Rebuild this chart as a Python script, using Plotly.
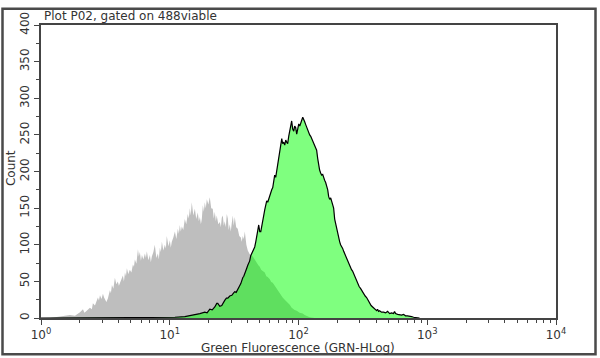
import plotly.graph_objects as go

# ---- data (log10 fluorescence channel, counts) ----
control_log = [0.070, 0.109, 0.147, 0.186, 0.225, 0.264, 0.290, 0.303, 0.326, 0.337,
               0.349, 0.380, 0.395, 0.403, 0.419, 0.430, 0.442, 0.450, 0.458, 0.470,
               0.481, 0.490, 0.497, 0.508, 0.520, 0.535, 0.543, 0.551, 0.562, 0.574,
               0.585, 0.597, 0.605, 0.613, 0.625, 0.636, 0.644, 0.652, 0.660, 0.667,
               0.678, 0.690, 0.702, 0.714, 0.722, 0.729, 0.741, 0.753, 0.760, 0.768,
               0.776, 0.784, 0.795, 0.807, 0.815, 0.822, 0.834, 0.846, 0.853, 0.861,
               0.873, 0.884, 0.896, 0.908, 0.915, 0.923, 0.931, 0.939, 0.950, 0.962,
               0.970, 0.977, 0.990, 1.001, 1.008, 1.016, 1.028, 1.040, 1.051, 1.063,
               1.071, 1.078, 1.086, 1.094, 1.105, 1.117, 1.128, 1.140, 1.148, 1.156,
               1.163, 1.171, 1.183, 1.195, 1.206, 1.218, 1.226, 1.234, 1.242, 1.249,
               1.257, 1.265, 1.272, 1.280, 1.288, 1.300, 1.311, 1.322, 1.334, 1.342,
               1.350, 1.358, 1.365, 1.377, 1.389, 1.397, 1.404, 1.412, 1.420, 1.427,
               1.435, 1.443, 1.451, 1.458, 1.466, 1.474, 1.482, 1.490, 1.497, 1.505,
               1.516, 1.528, 1.540, 1.552, 1.559, 1.567, 1.575, 1.583, 1.595, 1.606,
               1.621, 1.633, 1.645, 1.660, 1.676, 1.688, 1.699, 1.710, 1.722, 1.738,
               1.750, 1.761, 1.777, 1.788, 1.800, 1.815, 1.827, 1.839, 1.854, 1.866,
               1.877, 1.893, 1.905, 1.916, 1.932, 1.947, 1.960, 1.970, 1.986, 2.009,
               2.033, 2.048, 2.087, 2.126]
control_count = [0, 1, 2, 2, 4, 3, 6, 8, 12, 7,
                 9, 14, 12, 20, 17, 22, 28, 24, 31, 26,
                 33, 28, 25, 22, 27, 38, 34, 45, 40, 55,
                 46, 50, 44, 47, 52, 58, 50, 62, 57, 68,
                 60, 66, 62, 73, 70, 80, 74, 94, 84, 90,
                 78, 86, 80, 88, 82, 91, 79, 86, 76, 84,
                 90, 100, 82, 88, 80, 96, 90, 104, 92, 100,
                 95, 112, 98, 106, 96, 104, 110, 118, 108, 122,
                 115, 127, 118, 125, 120, 135, 128, 142, 136, 150,
                 140, 158, 140, 149, 135, 144, 132, 138, 128, 135,
                 154, 145, 158, 150, 162, 155, 165, 150, 149, 136,
                 145, 132, 140, 128, 131, 124, 137, 140, 126, 132,
                 124, 142, 136, 120, 128, 118, 130, 140, 126, 138,
                 124, 122, 112, 110, 104, 112, 108, 118, 100, 92,
                 87, 86, 84, 80, 75, 72, 70, 66, 64, 62,
                 57, 56, 53, 49, 48, 44, 40, 38, 33, 30,
                 28, 25, 23, 21, 18, 14, 12, 11, 10, 7,
                 6, 4, 1, 0]

sample_log = [0.000, 0.962, 1.040, 1.117, 1.156, 1.195, 1.234, 1.272, 1.290, 1.311,
              1.330, 1.350, 1.365, 1.373, 1.389, 1.404, 1.416, 1.427, 1.440, 1.451,
              1.466, 1.482, 1.495, 1.505, 1.516, 1.528, 1.540, 1.552, 1.560, 1.567,
              1.575, 1.583, 1.590, 1.598, 1.606, 1.614, 1.621, 1.629, 1.637, 1.645,
              1.652, 1.660, 1.668, 1.676, 1.684, 1.691, 1.699, 1.707, 1.715, 1.722,
              1.730, 1.738, 1.745, 1.753, 1.761, 1.769, 1.777, 1.784, 1.792, 1.800,
              1.808, 1.815, 1.823, 1.831, 1.839, 1.846, 1.854, 1.862, 1.870, 1.877,
              1.885, 1.893, 1.901, 1.908, 1.916, 1.924, 1.932, 1.940, 1.947, 1.955,
              1.963, 1.970, 1.978, 1.986, 1.994, 2.002, 2.010, 2.017, 2.025, 2.033,
              2.040, 2.048, 2.056, 2.064, 2.072, 2.079, 2.087, 2.095, 2.103, 2.110,
              2.118, 2.126, 2.134, 2.141, 2.149, 2.157, 2.164, 2.172, 2.180, 2.188,
              2.195, 2.203, 2.211, 2.219, 2.227, 2.234, 2.242, 2.250, 2.258, 2.265,
              2.273, 2.281, 2.289, 2.296, 2.304, 2.312, 2.320, 2.327, 2.335, 2.343,
              2.351, 2.358, 2.366, 2.374, 2.382, 2.389, 2.397, 2.405, 2.412, 2.420,
              2.432, 2.444, 2.452, 2.459, 2.471, 2.483, 2.495, 2.506, 2.518, 2.529,
              2.540, 2.552, 2.564, 2.576, 2.588, 2.599, 2.607, 2.614, 2.622, 2.630,
              2.645, 2.661, 2.676, 2.692, 2.708, 2.723, 2.738, 2.746, 2.754, 2.770,
              2.785, 2.800, 2.816, 2.831, 2.847, 2.862, 2.878, 2.894, 2.909, 2.940]
sample_count = [0, 0, 1, 2, 3, 4, 6, 8, 7, 12,
                11, 15, 20, 20, 16, 17, 22, 24, 27, 27,
                30, 31, 34, 36, 35, 40, 43, 47, 52, 55,
                57, 62, 63, 68, 72, 75, 78, 85, 88, 91,
                95, 97, 104, 110, 120, 127, 118, 118, 128, 135,
                140, 148, 155, 160, 158, 163, 168, 172, 175, 178,
                186, 195, 192, 202, 210, 218, 229, 236, 245, 238,
                240, 236, 243, 240, 238, 248, 256, 262, 269, 258,
                255, 262, 260, 251, 258, 265, 262, 268, 270, 274,
                272, 268, 264, 260, 256, 254, 250, 248, 245, 242,
                238, 235, 232, 229, 218, 205, 202, 198, 195, 196,
                191, 188, 185, 180, 175, 166, 162, 164, 160, 154,
                150, 135, 128, 120, 114, 108, 104, 100, 98, 95,
                91, 88, 84, 82, 78, 76, 72, 68, 66, 64,
                59, 55, 50, 47, 43, 40, 36, 34, 30, 28,
                24, 20, 17, 15, 13, 12, 10, 12, 9, 10,
                8, 8, 7, 9, 6, 7, 6, 9, 6, 5,
                4, 4, 5, 3, 3, 2, 2, 1, 1, 0]

x_tick_vals = [1, 10, 100, 1000, 10000]
x_tick_text = ["10<sup>0</sup>", "10<sup>1</sup>", "10<sup>2</sup>", "10<sup>3</sup>", "10<sup>4</sup>"]
x_minor_vals = [m * d for d in (1, 10, 100, 1000) for m in range(2, 10)]
y_tick_vals = [0, 50, 100, 150, 200, 250, 300, 350, 400]

plot_title = "Plot P02, gated on 488viable"
x_title = "Green Fluorescence (GRN-HLog)"
y_title = "Count"

FONT = "DejaVu Sans"
TXT = "#333333"

fig = go.Figure()
fig.add_trace(go.Scatter(
    x=[10 ** v for v in control_log], y=control_count,
    mode="lines", fill="tozeroy",
    line=dict(width=0, color="rgb(190,190,190)"),
    fillcolor="rgb(190,190,190)", hoverinfo="skip", showlegend=False))
fig.add_trace(go.Scatter(
    x=[10 ** v for v in sample_log], y=sample_count,
    mode="lines", fill="tozeroy",
    line=dict(width=1.2, color="black"),
    fillcolor="rgba(0,255,0,0.5)", hoverinfo="skip", showlegend=False))

L, R, T, B = 41, 44, 19, 40
W, H = 600, 358
pw, ph = W - L - R, H - T - B

def px(x):
    return (x - L) / pw

def py(y):
    return (H - B - y) / ph

fig.update_layout(
    width=W, height=H,
    margin=dict(l=L, r=R, t=T, b=B),
    paper_bgcolor="white", plot_bgcolor="white",
    font=dict(family=FONT, size=11, color=TXT),
    xaxis=dict(
        type="log", range=[0, 4],
        tickvals=x_tick_vals, ticktext=x_tick_text,
        ticks="outside", ticklen=5, tickwidth=1, tickcolor="#444",
        minor=dict(tickvals=x_minor_vals, ticks="outside", ticklen=3, tickcolor="#444"),
        showline=True, linecolor="#444", linewidth=1.5, mirror=True,
        showgrid=False, zeroline=False,
        tickfont=dict(family=FONT, size=12, color=TXT)),
    yaxis=dict(
        range=[0, 400], tickvals=y_tick_vals, tickangle=-90,
        ticks="outside", ticklen=5, tickwidth=1, tickcolor="#444",
        minor=dict(dtick=25, ticks="outside", ticklen=3, tickcolor="#444"),
        showline=True, linecolor="#444", linewidth=1.5, mirror=True,
        showgrid=False, zeroline=False,
        tickfont=dict(family=FONT, size=12, color=TXT)),
    annotations=[
        dict(text=plot_title, xref="paper", yref="paper", x=px(42), y=py(10),
             xanchor="left", yanchor="middle", showarrow=False,
             font=dict(family=FONT, size=12, color=TXT)),
        dict(text=x_title, xref="paper", yref="paper", x=px(298), y=py(349),
             xanchor="center", yanchor="middle", showarrow=False,
             font=dict(family=FONT, size=12, color=TXT)),
        dict(text=y_title, xref="paper", yref="paper", x=px(11), y=py(165),
             xanchor="center", yanchor="middle", textangle=-90, showarrow=False,
             font=dict(family=FONT, size=12, color=TXT)),
    ],
    shapes=[dict(type="rect", xref="paper", yref="paper",
                 x0=px(2.5), x1=px(595.5), y0=py(355), y1=py(2.5),
                 line=dict(color="#4a4a4a", width=2.5), fillcolor="rgba(0,0,0,0)",
                 layer="above")],
)

fig.write_html("out.html")
